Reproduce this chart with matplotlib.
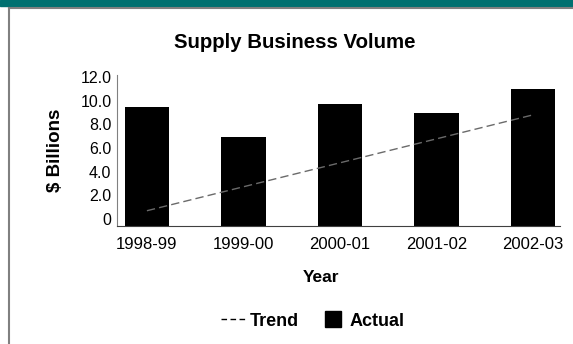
import matplotlib.pyplot as plt
from matplotlib.lines import Line2D
from matplotlib.patches import Rectangle
import numpy as np

plt.rcParams['font.family'] = ['Liberation Sans', 'DejaVu Sans']

years = ["1998-99", "1999-00", "2000-01", "2001-02", "2002-03"]
actual = [9.5, 6.9, 9.7, 9.0, 11.0]
trend_years = ["1998-99", "2002-03"]
trend = [0.7, 8.8]

fig = plt.figure(figsize=(5.73, 3.44), dpi=100)

# teal band and thin frame around the white panel
fig.patches.append(Rectangle((0, 1 - 6/344), 1, 6/344, transform=fig.transFigure,
                             color='#007070', zorder=0))
fig.add_artist(Line2D([9/573, 9/573], [0, 1 - 7.5/344], transform=fig.transFigure,
                      color='#808080', lw=1.5))
fig.add_artist(Line2D([9/573, 1], [1 - 7.5/344, 1 - 7.5/344], transform=fig.transFigure,
                      color='#808080', lw=1.5))

ax = fig.add_axes([117/573, 1 - 226/344, 443/573, 151/344])
x = np.arange(len(years))
floor = -0.59
ax.bar(x, np.array(actual) - floor, bottom=floor, width=0.46, color='black', zorder=2)
tx = [years.index(y) for y in trend_years]
ax.plot(tx, trend, color='#6a6a6a', lw=1, dashes=(6, 3), zorder=3)

ax.set_xlim(-0.31, 4.28)
ax.set_ylim(floor, 12.17)
ax.set_yticks([0, 2, 4, 6, 8, 10, 12])
ax.set_yticklabels(['0', '2.0', '4.0', '6.0', '8.0', '10.0', '12.0'], fontsize=11.5)
ax.set_xticks(x)
ax.set_xticklabels(years, fontsize=12)
ax.tick_params(length=0)
ax.tick_params(axis='y', pad=4)
ax.tick_params(axis='x', pad=8)
for s in ['top', 'right']:
    ax.spines[s].set_visible(False)
ax.spines['left'].set_color('#808080')
ax.spines['bottom'].set_color('#404040')

ax.set_ylabel('$ Billions', fontsize=13.5, fontweight='bold', labelpad=12)
fig.text(321/573, 1 - 278/344, 'Year', ha='center', va='center',
         fontsize=12.5, fontweight='bold')
fig.text(295/573, 1 - 43/344, 'Supply Business Volume', ha='center', va='center',
         fontsize=14.7, fontweight='bold')

handles = [Line2D([0], [0], color='black', lw=1, dashes=(4, 2.5)),
           Line2D([0], [0], color='black', marker='s', markersize=12, ls='none')]
fig.legend(handles, ['Trend', 'Actual'], loc='center', bbox_to_anchor=(0.545, 1 - 321/344),
           ncol=2, frameon=False, prop={'weight': 'bold', 'size': 13},
           handlelength=1.4, handletextpad=0.2, columnspacing=1.2)

fig.savefig('out.png', dpi=100)
